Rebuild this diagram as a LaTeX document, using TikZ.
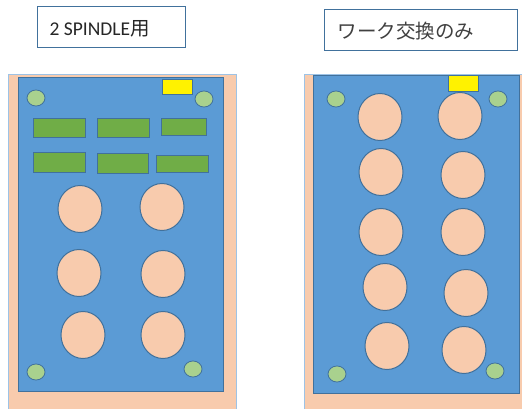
\documentclass[tikz,border=0pt]{standalone}
\usepackage{fontspec}
\setmainfont{Carlito}
\newfontfamily\jpfont{Noto Sans CJK JP}
\usetikzlibrary{positioning}

\definecolor{plateblue}{HTML}{5B9BD5}
\definecolor{edgeblue}{HTML}{41719C}
\definecolor{peach}{HTML}{F8CBAD}
\definecolor{padgreen}{HTML}{70AD47}
\definecolor{pingreen}{HTML}{A9D18E}
\definecolor{rimblue}{HTML}{9DC3E6}

\tikzset{
  labelbox/.style={draw=edgeblue,line width=0.9pt,fill=white},
  workpiece/.style={draw=edgeblue,line width=1pt,fill=peach},
  pin/.style={draw=edgeblue,line width=0.8pt,fill=pingreen},
  pad/.style={draw=edgeblue,line width=0.8pt,fill=padgreen}
}

\begin{document}
\begin{tikzpicture}[x=1pt,y=-1pt]
  \useasboundingbox (0,0) rectangle (522,409);

  % Titles
  \draw[labelbox] (37,6) rectangle (185,47);
  \node[anchor=west,text=black!85,font=\fontsize{19.5}{22}\selectfont] (title1) at (46,29) {2 SPINDLE{\jpfont 用}};
  \draw[labelbox] (324,9) rectangle (517,50);
  \node[anchor=west,text=black!75,font=\jpfont\fontsize{19.5}{22}\selectfont] (title2) at (334,31) {ワーク交換のみ};

  % Left pallet (2 spindle)
  \fill[peach] (8,74) rectangle (236,409);
  \draw[rimblue,line width=0.9pt] (8,409) -- (8,74) -- (236,74) -- (236,409);
  \draw[fill=plateblue,draw=edgeblue,line width=0.9pt] (18,77) rectangle (223,391);
  \draw[fill=yellow,draw=edgeblue,line width=0.8pt] (162,79) rectangle (192,94);

  % green pads
  \foreach \xa/\ya/\xb/\yb in {33/118/85/137, 97/118/149/137, 161/118/206/135,
                               33/152/85/172, 97/153/148/173, 156/155/208/172}
    \draw[pad] (\xa,\ya) rectangle (\xb,\yb);

  % workpieces
  \foreach \cx/\cy in {80/209, 162/207, 79/273, 163/274, 83/335, 163/335}
    \draw[workpiece] (\cx,\cy) ellipse (22 and 23.5);

  % locating pins
  \foreach \cx/\cy in {36/98, 204/99, 36/372, 193/369}
    \draw[pin] (\cx,\cy) ellipse (9 and 8);

  % Right pallet (work change only)
  \fill[peach] (304,74) rectangle (522,409);
  \draw[rimblue,line width=0.9pt] (304,409) -- (304,74) -- (522,74);
  \draw[fill=plateblue,draw=edgeblue,line width=0.9pt] (313,75) rectangle (519,393);
  \draw[fill=yellow,draw=edgeblue,line width=0.8pt] (448,75) rectangle (478,91);

  \foreach \cx/\cy in {380/117, 460/116, 381/172, 463/175, 381/232, 463/232,
                       385/287, 466/293, 387/346, 464/350}
    \draw[workpiece] (\cx,\cy) ellipse (22 and 23.5);

  \foreach \cx/\cy in {336/99, 498/99, 337/374, 495/371}
    \draw[pin] (\cx,\cy) ellipse (9 and 8);
\end{tikzpicture}
\end{document}
